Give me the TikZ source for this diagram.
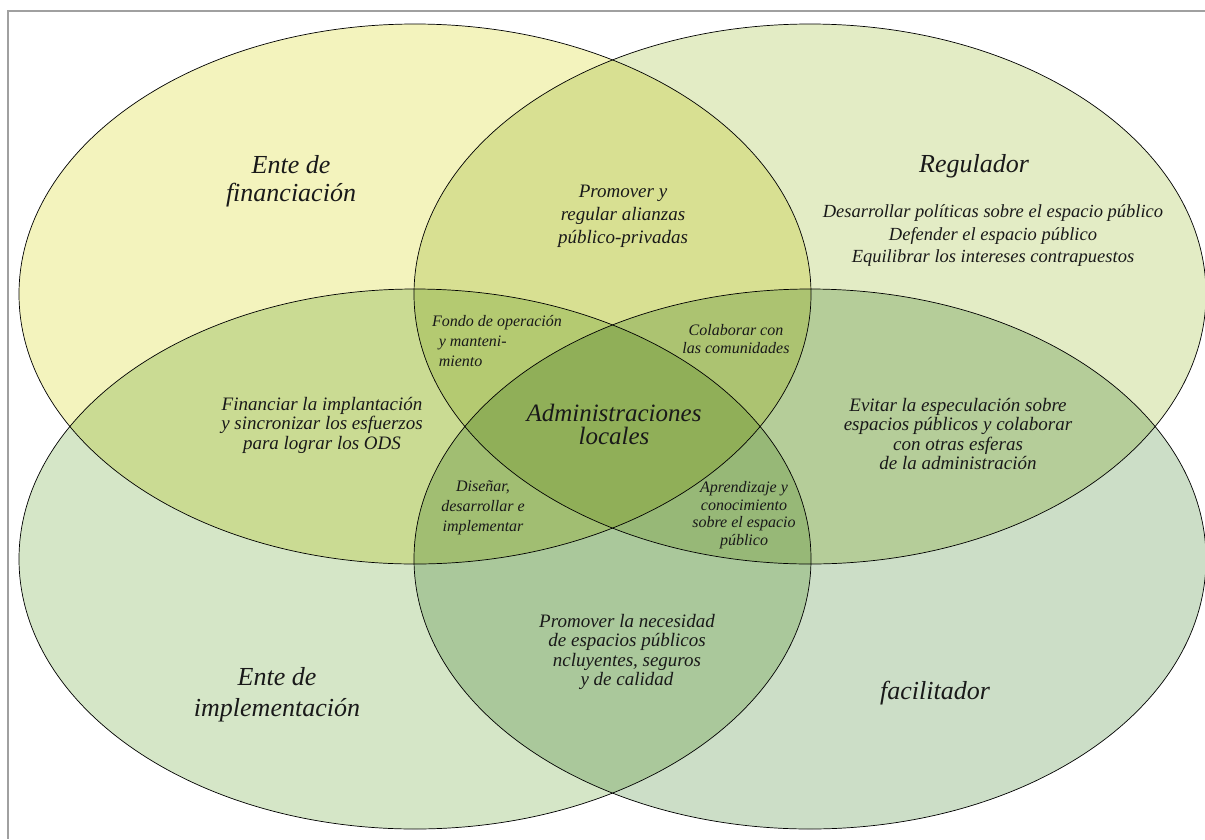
\documentclass[tikz,border=0pt]{standalone}
\usepackage{fontspec}
\setmainfont{Liberation Serif}
\usetikzlibrary{positioning}

\definecolor{finfill}{HTML}{F3F3BD}
\definecolor{regfill}{HTML}{E3ECC5}
\definecolor{impfill}{HTML}{D5E6C7}
\definecolor{facfill}{HTML}{CCDEC7}
\definecolor{framegray}{HTML}{A0A0A0}

\begin{document}
\begin{tikzpicture}[x=1pt,y=-1pt,
	every node/.style={inner sep=0pt,text=black!90},
	rolelabel/.style={font=\fontsize{26}{#1}\selectfont\itshape,align=center},
	rolelabel/.default=28,
	tasklabel/.style={font=\fontsize{19}{#1}\selectfont\itshape,align=center},
	tasklabel/.default=19.5,
	smalllabel/.style={font=\fontsize{16}{#1}\selectfont\itshape,align=center},
	smalllabel/.default=20,
	roundel/.style={x radius=396pt,y radius=270pt}]
	\useasboundingbox (0,0) rectangle (1205,839);
	% Frame
	\draw[framegray,line width=1.2pt] (1205,11) -- (8,11) -- (8,839);
	% Four roles
	\begin{scope}[blend mode=multiply]
		\fill[finfill] (415,294) ellipse [roundel];
		\fill[regfill] (810,294) ellipse [roundel];
		\fill[impfill] (415,559) ellipse [roundel];
		\fill[facfill] (810,559) ellipse [roundel];
	\end{scope}
	\foreach \cx/\cy in {415/294,810/294,415/559,810/559}
		\draw[black,line width=0.7pt] (\cx,\cy) ellipse [roundel];
	% Role names
	\node[rolelabel] (fin) at (291,181) {Ente de\\financiación};
	\node[rolelabel] (reg) at (974,166) {Regulador};
	\node[rolelabel=31] (imp) at (277,695) {Ente de\\implementación};
	\node[rolelabel] (fac) at (935,693) {facilitador};
	\node[rolelabel=23,font=\fontsize{25}{23}\selectfont\itshape] (adm) at (614,424) {Administraciones\\locales};
	% Tasks
	\node[tasklabel,font=\fontsize{18.5}{22.5}\selectfont\itshape] (regtask) at (993,236)
		{Desarrollar políticas sobre el espacio público\\Defender el espacio público\\Equilibrar los intereses contrapuestos};
	\node[tasklabel=23] (finreg) at (623,216) {Promover y\\ regular alianzas\\público-privadas};
	\node[tasklabel] (finimp) at (322,425) {Financiar la implantación\\y sincronizar los esfuerzos\\para lograr los ODS};
	\node[tasklabel] (regfac) at (958,434) {Evitar la especulación sobre\\espacios públicos y colaborar\\con otras esferas\\de la administración};
	\node[tasklabel] (impfac) at (627,652) {Promover la necesidad\\de espacios públicos\\ncluyentes, seguros\\y de calidad};
	% Small overlaps
	\node[smalllabel,align=left] (fondo) at (497,341) {Fondo de operación\\\ \,y manteni-\\\ \,miento};
	\node[smalllabel=18] (colab) at (736,339) {Colaborar con\\las comunidades};
	\node[smalllabel] (disen) at (483,508) {Diseñar,\\desarrollar e\\implementar};
	\node[smalllabel=17.5] (apren) at (744,515) {Aprendizaje y\\conocimiento\\sobre el espacio\\público};
\end{tikzpicture}
\end{document}
